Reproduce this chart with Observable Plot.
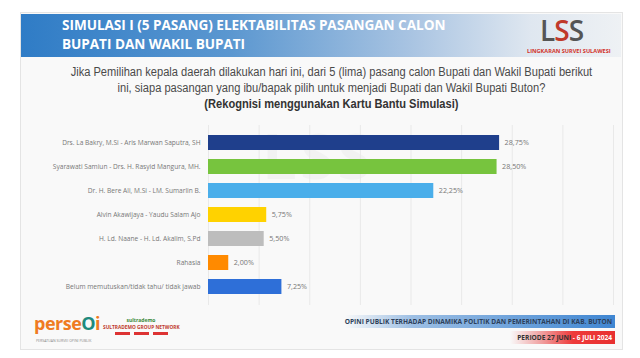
<!DOCTYPE html>
<html>
<head>
<meta charset="utf-8">
<script src="https://cdn.jsdelivr.net/npm/d3@7"></script>
<script src="https://cdn.jsdelivr.net/npm/@observablehq/plot@0.6"></script>
<style>
  html, body { margin: 0; padding: 0; background: #ffffff; }
  #page { position: relative; width: 640px; height: 358px; overflow: hidden; background: #ffffff; font-family: "Liberation Sans", Arial, sans-serif; }
  #slide { position: absolute; left: 20px; top: 12px; width: 603px; height: 338px; background: #f9f9f9; border: 1px solid #e4e4e4; box-sizing: border-box; }
  #banner { position: absolute; left: 21px; top: 14px; width: 600px; height: 43px;
    background: linear-gradient(90deg, #2f7cc6 0%, #5b97d0 35%, #a9c4e2 65%, #dfe7f0 85%, #eef1f4 100%); }
  .title { position: absolute; left: 62px; color: #ffffff; font-family: "Open Sans", "DejaVu Sans", sans-serif; font-weight: 700; font-size: 13.6px; line-height: 15px; letter-spacing: -0.05px; white-space: nowrap; }
  #lss { position: absolute; left: 540px; top: 16px; font-family: "Open Sans", sans-serif; font-weight: 600; font-size: 28px; line-height: 28px; color: #555; letter-spacing: -1px; }
  #lss .mid { color: #c0392b; }
  #lsssub { position: absolute; left: 527px; top: 48px; font-family: "Open Sans", sans-serif; font-weight: 700; font-size: 5.6px; line-height: 7px; color: #d2342a; }
  .q { position: absolute; left: 20px; width: 620px; text-align: center; color: #4a4a4a; font-family: "Liberation Sans", sans-serif; font-size: 12px; line-height: 13px; transform: scaleX(0.925); transform-origin: 329px 0; white-space: nowrap; }
  #wm1 { position: absolute; left: 262px; top: 124px; font-family: "Open Sans", sans-serif; font-weight: 700; font-size: 62px; line-height: 62px; height: 62px; color: #f2f2f2; letter-spacing: 3px; }
  #chart { position: absolute; left: 0; top: 116px; }
  #foot1 { position: absolute; left: 345px; top: 315px; width: 270px; height: 13px; background: linear-gradient(90deg, rgba(255,255,255,0) 0%, #9dbfe4 25%, #3f86d2 100%); }
  #foot1t { position: absolute; right: 28px; top: 317px; font-family: "Open Sans", sans-serif; font-weight: 700; font-size: 6.6px; line-height: 9px; color: #2d3f5a; white-space: nowrap; }
  #foot2 { position: absolute; left: 510px; top: 331px; width: 105px; height: 13px; background: linear-gradient(90deg, rgba(255,255,255,0) 0%, #f0a0a0 30%, #ee3a3a 60%, #e83030 100%); }
  #foot2t { position: absolute; right: 28px; top: 333px; font-family: "Open Sans", sans-serif; font-weight: 700; font-size: 6.6px; line-height: 9px; color: #333; white-space: nowrap; }
  #foot2t .r { color: #fff; }
  #persepi { position: absolute; left: 34px; top: 313px; font-family: "Open Sans", sans-serif; font-weight: 700; font-size: 18px; line-height: 20px; color: #ef7b22; letter-spacing: -0.5px; }
  #persepi .o { color: #1f8a7e; }
  #persepisub { position: absolute; left: 36px; top: 339px; font-family: "Open Sans", sans-serif; font-size: 3.5px; line-height: 4px; color: #888; white-space: nowrap; }
  #sultra { position: absolute; left: 103px; top: 317px; width: 76px; text-align: center; font-family: "Open Sans", sans-serif; font-weight: 700; color: #c0392b; line-height: 7px; }
  #sultra .a { font-size: 5px; color: #3a8a3a; }
  #sultra .b { font-size: 4.8px; white-space: nowrap; }
  #sultra .bars { height: 5px; margin-top: 1px; }
  #sultra .c { display: inline-block; width: 15px; height: 3px; background: #d33; margin: 0 2px; vertical-align: top; }
</style>
</head>
<body>
<div id="page">
  <div id="slide"></div>
  <div id="banner"></div>
  <div class="title" style="top:17px">SIMULASI I (5 PASANG) ELEKTABILITAS PASANGAN CALON</div>
  <div class="title" style="top:36px">BUPATI DAN WAKIL BUPATI</div>
  <div id="lss">L<span class="mid">S</span>S</div>
  <div id="lsssub">LINGKARAN SURVEI SULAWESI</div>
  <div id="wm1">LSS</div>
  <div class="q" style="top:66px">Jika Pemilihan kepala daerah dilakukan hari ini, dari 5 (lima) pasang calon Bupati dan Wakil Bupati berikut</div>
  <div class="q" style="top:82px">ini, siapa pasangan yang ibu/bapak pilih untuk menjadi Bupati dan Wakil Bupati Buton?</div>
  <div class="q" style="top:98px; font-weight:700; color:#333">(Rekognisi menggunakan Kartu Bantu Simulasi)</div>
  <div id="chart"></div>
  <div id="foot1"></div>
  <div id="foot1t">OPINI PUBLIK TERHADAP DINAMIKA POLITIK DAN PEMERINTAHAN DI KAB. BUTON</div>
  <div id="foot2"></div>
  <div id="foot2t">PERIODE 27 JUNI <span class="r">- 6 JULI 2024</span></div>
  <div id="persepi">perse<span class="o">O</span>i</div>
  <div id="persepisub">PERSATUAN SURVEI OPINI PUBLIK</div>
  <div id="sultra"><div class="a">sultrademo</div><div class="b">SULTRADEMO GROUP NETWORK</div><div class="bars"><span class="c"></span><span class="c"></span><span class="c"></span></div></div>
</div>
<script>
const candidates = [
  "Drs. La Bakry, M.Si - Aris Marwan Saputra, SH",
  "Syarawati Samiun - Drs. H. Rasyid Mangura, MH.",
  "Dr. H. Bere Ali, M.Si - LM. Sumarlin B.",
  "Alvin Akawijaya - Yaudu Salam Ajo",
  "H. Ld. Naane - H. Ld. Akalim, S.Pd",
  "Rahasia",
  "Belum memutuskan/tidak tahu/ tidak jawab"
];
const values = [28.75, 28.50, 22.25, 5.75, 5.50, 2.00, 7.25];
const palette = ["#1f3f8c", "#77c43e", "#4aaeea", "#ffd200", "#bdbdbd", "#ff8a00", "#2e6fd8"];
const gridTicks = [0, 5, 10, 15, 20, 25, 30, 35, 40];

const data = candidates.map((name, i) => ({ name, value: values[i] }));
const fmt = v => v.toFixed(2).replace(".", ",") + "%";

const chart = Plot.plot({
  width: 640,
  height: 194,
  marginTop: 9,
  marginBottom: 5,
  marginLeft: 208,
  marginRight: 27,
  style: { background: "transparent", fontFamily: "'Open Sans', 'Liberation Sans', sans-serif" },
  x: { domain: [0, 40], axis: null },
  y: { domain: candidates, padding: 0.36, label: null },
  color: { domain: candidates, range: palette },
  marks: [
    Plot.ruleX(gridTicks, { stroke: "#e9e9e9", strokeWidth: 1 }),
    Plot.barX(data, { x: "value", y: "name", fill: "name" }),
    Plot.text(data, { x: "value", y: "name", text: d => fmt(d.value), dx: 5, textAnchor: "start", fill: "#777", fontSize: 7.2 }),
    Plot.axisY({ tickSize: 0, tickPadding: 8, fontSize: 6.6, color: "#777", label: null })
  ]
});
document.getElementById("chart").appendChild(chart);
</script>
</body>
</html>
